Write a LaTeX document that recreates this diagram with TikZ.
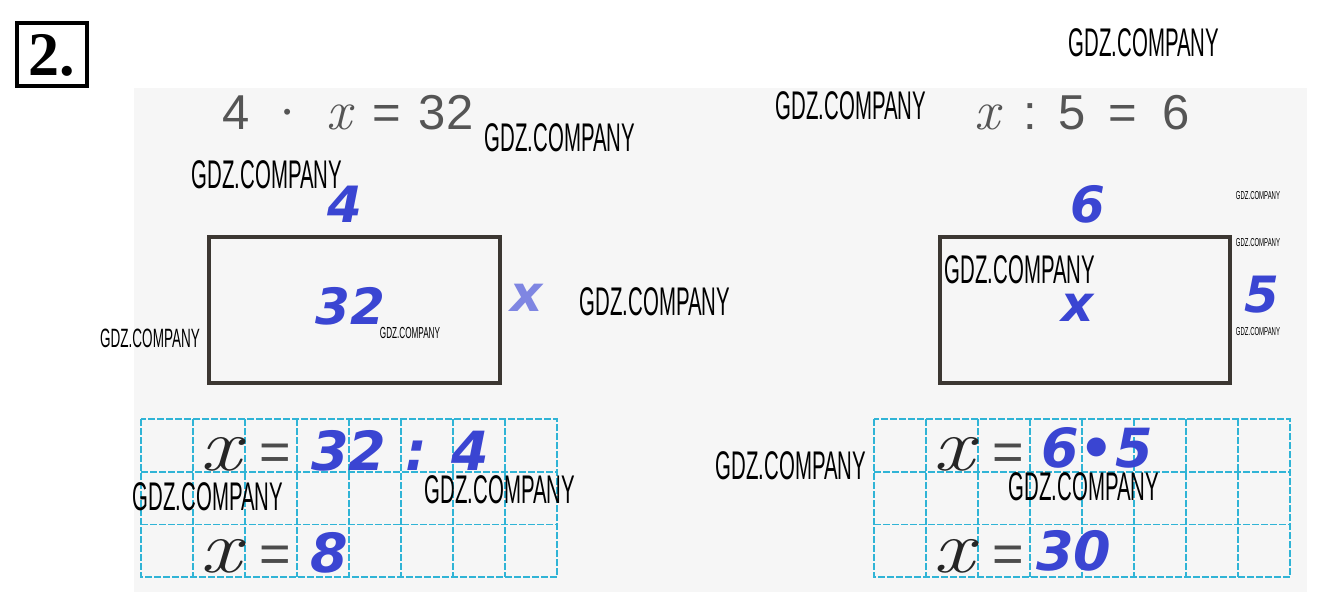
\documentclass[tikz,border=0pt]{standalone}
\usepackage{fontspec}
\usepackage{graphicx}
\usepackage{tikz}
\newfontfamily\printfont{Liberation Sans}
\newfontfamily\answerfont{DejaVu Sans}[BoldItalicFont={DejaVu Sans Bold Oblique}]
\newfontfamily\numfont{Liberation Serif}
\newfontfamily\wmfont{Liberation Sans}
\definecolor{penblue}{HTML}{3A45D2}
\definecolor{gridcyan}{HTML}{30B4D6}
\definecolor{printgray}{HTML}{555555}
\definecolor{boxline}{HTML}{3C3732}
\definecolor{pagegray}{HTML}{F6F6F6}
% watermark text: size, horizontal squeeze
\newcommand{\gdz}[2]{\scalebox{#2}[1]{\fontsize{#1}{#1}\selectfont GDZ.COMPANY}}
\newcommand{\lx}[1]{{\rmfamily\itshape\fontsize{#1}{#1}\selectfont x}}
\newcommand{\mdot}{\raisebox{10pt}{\fontsize{22}{22}\selectfont •}}

\begin{document}
\begin{tikzpicture}[
            x = 1pt, y = -1pt, % pixel grid, y down
            inner sep = 0pt
        ]

        \tikzstyle{watermark}=[font=\wmfont, text=black]
        \tikzstyle{given}=[text=printgray, font=\printfont\fontsize{49}{50}\selectfont, anchor=base west]
        \tikzstyle{answer}=[text=penblue, font=\answerfont\bfseries\itshape\fontsize{50}{52}\selectfont, anchor=base]
        \tikzstyle{sum}=[answer, font=\answerfont\bfseries\itshape\fontsize{54}{56}\selectfont, anchor=base west]
        \tikzstyle{written}=[text=black!85, anchor=base west]
        \tikzstyle{sign}=[text=black!70, font=\printfont\fontsize{54}{54}\selectfont, anchor=base west]
        \tikzstyle{outline}=[draw=boxline, line width=3.5pt]
        \tikzstyle{cell}=[draw=gridcyan, line width=1.7pt, dash pattern=on 7pt off 2pt]

        \useasboundingbox (0,0) rectangle (1320,601);
        \fill[pagegray] (134,88) rectangle (1307,592);

        % task number
        \node[draw, line width=4pt, minimum width=70, minimum height=63,
              font=\numfont\bfseries\fontsize{62}{62}\selectfont] (num) at (51.5,55) {2.};

        % the two equations
        \node[given] (eqa) at (222,130)
            {4\hspace{34pt}\mdot\hspace{35pt}\lx{56}\hspace{21pt}=\hspace{18pt}32};
        \node[given] (eqb) at (974,130)
            {\lx{56}\hspace{24pt}:\hspace{22pt}5\hspace{22pt}=\hspace{26pt}6};

        % rectangles with their sides
        \draw[outline] (209,237) rectangle (500,383);
        \node[answer] (topa) at (345,223) {4};
        \node[answer] (areaa) at (350,325) {32};
        \node[answer, text=penblue!65] (sidea) at (527,312) {x};

        \draw[outline] (940,237) rectangle (1230,383);
        \node[answer] (topb) at (1088,223) {6};
        \node[answer] (areab) at (1078,322) {x};
        \node[answer] (sideb) at (1262,313) {5};

        % squared paper
        \foreach \gx in {141,874} {
            \foreach \col in {1,...,7}
                \draw[cell] (\gx+\col*52,419) -- (\gx+\col*52,577);
            \foreach \row in {1,2}
                \draw[cell] (\gx,419+\row*52.7) -- (\gx+416,419+\row*52.7);
            \draw[cell, line width=2.4pt] (\gx,419) rectangle (\gx+416,577);
        }

        % left solution
        \node[written] (xa1) at (200,470) {\scalebox{1.2}[1]{\lx{75}}};
        \node[sign] (eqa1) at (259,470) {=};
        \node[sum] (ansa1) at (311,470) {32 : 4};
        \node[written] (xa2) at (200,572) {\scalebox{1.2}[1]{\lx{75}}};
        \node[sign] (eqa2) at (259,572) {=};
        \node[sum] (ansa2) at (310,572) {8};

        % right solution
        \node[written] (xb1) at (933,470) {\scalebox{1.2}[1]{\lx{75}}};
        \node[sign] (eqb1) at (992,470) {=};
        \node[sum] (ansb1) at (1041,467) {6\hspace{1pt}•\hspace{1pt}5};
        \node[written] (xb2) at (933,572) {\scalebox{1.2}[1]{\lx{75}}};
        \node[sign] (eqb2) at (992,572) {=};
        \node[sum] (ansb2) at (1036,570) {30};

        % watermarks
        \node[watermark] (wm1) at (1144,43) {\gdz{40}{0.51}};
        \node[watermark] (wm2) at (851,106) {\gdz{40}{0.51}};
        \node[watermark] (wm3) at (560,138) {\gdz{40}{0.51}};
        \node[watermark] (wm4) at (267,175) {\gdz{40}{0.51}};
        \node[watermark] (wm5) at (655,302) {\gdz{40}{0.51}};
        \node[watermark] (wm6) at (1020,270) {\gdz{40}{0.51}};
        \node[watermark] (wm7) at (150,338) {\gdz{26.5}{0.51}};
        \node[watermark] (wm8) at (410,333) {\gdz{16}{0.51}};
        \node[watermark] (wm9) at (1258,196) {\gdz{11.5}{0.52}};
        \node[watermark] (wm10) at (1258,243) {\gdz{11.5}{0.52}};
        \node[watermark] (wm11) at (1258,332) {\gdz{11.5}{0.52}};
        \node[watermark] (wm12) at (791,466) {\gdz{40}{0.51}};
        \node[watermark] (wm13) at (208,497) {\gdz{40}{0.51}};
        \node[watermark] (wm14) at (500,490) {\gdz{40}{0.51}};
        \node[watermark] (wm15) at (1084,487) {\gdz{40}{0.51}};

  \end{tikzpicture}
\end{document}
